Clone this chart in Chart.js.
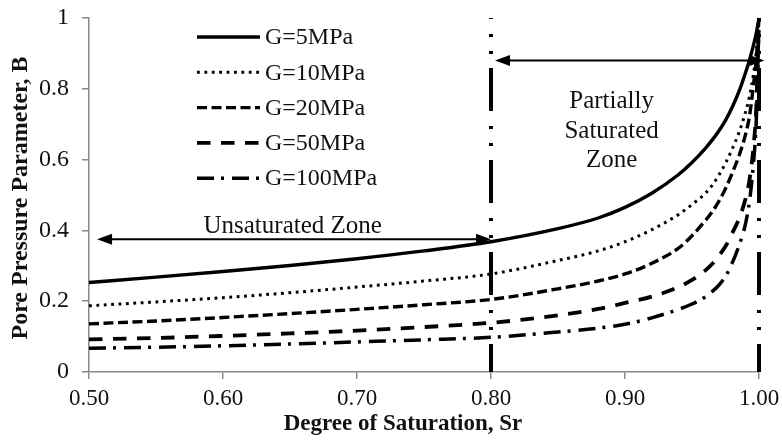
<!DOCTYPE html>
<html>
<head>
<meta charset="utf-8">
<script src="https://cdn.jsdelivr.net/npm/chart.js@4/dist/chart.umd.min.js"></script>
<style>
html,body{margin:0;padding:0;background:#fff;}
#wrap{width:782px;height:440px;position:relative;}
</style>
</head>
<body>
<div id="wrap"><canvas id="c" width="782" height="440"></canvas></div>
<script>
// ---- data ----
const satRatio = [0.50,0.55,0.60,0.65,0.70,0.75,0.80,0.85,0.88,0.90,0.92,0.94,0.95,0.96,0.965,0.97,0.975,0.98,0.985,0.99,0.993,0.996,0.998,1.00];
const bG5   = [0.253,0.268,0.284,0.301,0.320,0.342,0.368,0.405,0.435,0.465,0.505,0.558,0.592,0.632,0.655,0.681,0.711,0.748,0.792,0.846,0.883,0.925,0.958,1.0];
const bG10  = [0.187,0.198,0.210,0.224,0.240,0.257,0.277,0.315,0.342,0.368,0.402,0.445,0.473,0.505,0.527,0.556,0.590,0.630,0.676,0.735,0.780,0.845,0.905,1.0];
const bG20  = [0.136,0.144,0.154,0.165,0.177,0.190,0.205,0.235,0.257,0.277,0.307,0.350,0.385,0.428,0.452,0.482,0.518,0.562,0.610,0.672,0.725,0.815,0.885,1.0];
const bG50  = [0.092,0.096,0.102,0.109,0.117,0.127,0.139,0.160,0.178,0.195,0.213,0.240,0.260,0.287,0.305,0.328,0.355,0.392,0.432,0.490,0.545,0.640,0.750,1.0];
const bG100 = [0.067,0.070,0.074,0.079,0.085,0.091,0.098,0.113,0.124,0.135,0.153,0.177,0.192,0.212,0.227,0.245,0.270,0.308,0.356,0.420,0.485,0.595,0.715,1.0];
const seriesLabels = ['G=5MPa','G=10MPa','G=20MPa','G=50MPa','G=100MPa'];
const xTickValues = [0.50,0.60,0.70,0.80,0.90,1.00];
const yTickValues = [0,0.2,0.4,0.6,0.8,1];
const zoneBounds = [0.80, 1.00];
const zoneArrows = [
  {from:0.506, to:0.800, at:0.375},
  {from:0.803, to:1.004, at:0.880}
];
const zoneLabels = [
  {lines:['Unsaturated Zone'], x:0.652, y:0.412},
  {lines:['Partially','Saturated','Zone'], x:0.890, y:0.763}
];
const xTitle = 'Degree of Saturation, Sr';
const yTitle = 'Pore Pressure Parameter, B';

// ---- styles ----
const SERIF = '"Liberation Serif", "Times New Roman", serif';
const styles = [
  {w:3.4, dash:[]},
  {w:3.0, dash:[2.8,4.6]},
  {w:3.4, dash:[10,4.5]},
  {w:3.8, dash:[13.5,10.5]},
  {w:3.5, dash:[17,7,3,8]}
];
const allB = [bG5,bG10,bG20,bG50,bG100];

const datasets = allB.map((arr,i)=>({
  label: seriesLabels[i],
  data: satRatio.map((s,k)=>({x:s,y:arr[k]})),
  borderColor:'#000',
  borderWidth: styles[i].w,
  borderDash: styles[i].dash,
  borderCapStyle:'butt',
  pointRadius:0,
  fill:false,
  cubicInterpolationMode:'monotone',
  clip: 6
}));

function arrowHead(ctx, x, y, dir){
  const L = 15, H = 5.5;
  ctx.beginPath();
  ctx.moveTo(x, y);
  ctx.lineTo(x - dir*L, y - H);
  ctx.lineTo(x - dir*L, y + H);
  ctx.closePath();
  ctx.fill();
}

const annot = {
  id:'annot',
  afterDatasetsDraw(chart){
    const ctx = chart.ctx, xs = chart.scales.x, ys = chart.scales.y;
    ctx.save();
    // vertical zone boundaries
    ctx.strokeStyle = '#000';
    ctx.lineWidth = 4;
    ctx.setLineDash([43,15,3,14,3,14]);
    ctx.lineDashOffset = 42;
    zoneBounds.forEach(b=>{
      const px = xs.getPixelForValue(b);
      ctx.beginPath();
      ctx.moveTo(px, ys.getPixelForValue(1));
      ctx.lineTo(px, ys.getPixelForValue(0));
      ctx.stroke();
    });
    ctx.setLineDash([]);
    // arrows
    ctx.lineWidth = 2;
    ctx.fillStyle = '#000';
    zoneArrows.forEach(a=>{
      const x1 = xs.getPixelForValue(a.from), x2 = xs.getPixelForValue(a.to), y = ys.getPixelForValue(a.at);
      ctx.beginPath();
      ctx.moveTo(x1+8, y); ctx.lineTo(x2-8, y); ctx.stroke();
      arrowHead(ctx, x1, y, -1);
      arrowHead(ctx, x2, y, 1);
    });
    // zone labels
    ctx.font = '25px ' + SERIF;
    ctx.fillStyle = '#111';
    ctx.textAlign = 'center';
    ctx.textBaseline = 'middle';
    zoneLabels.forEach(z=>{
      const cx = xs.getPixelForValue(z.x), cy = ys.getPixelForValue(z.y);
      z.lines.forEach((t,i)=>ctx.fillText(t, cx, cy + i*29.5));
    });
    // legend
    const lx0 = 197, lx1 = 260, ly0 = 37, lstep = 35.3;
    ctx.font = '24px ' + SERIF;
    ctx.textAlign = 'left';
    chart.data.datasets.forEach((ds,i)=>{
      const y = ly0 + i*lstep;
      ctx.strokeStyle = '#000';
      ctx.lineWidth = ds.borderWidth;
      ctx.setLineDash(ds.borderDash);
      ctx.lineDashOffset = 0;
      ctx.beginPath(); ctx.moveTo(lx0, y); ctx.lineTo(lx1, y); ctx.stroke();
      ctx.setLineDash([]);
      ctx.fillText(ds.label, 265, y + 1);
    });
    // axis titles
    ctx.font = 'bold 23px ' + SERIF;
    ctx.textAlign = 'center';
    ctx.fillText(xTitle, 403, 424);
    ctx.save();
    ctx.translate(21, (ys.top+ys.bottom)/2 + 3);
    ctx.rotate(-Math.PI/2);
    ctx.font = 'bold 24px ' + SERIF;
    ctx.fillText(yTitle, 0, 0);
    ctx.restore();
    ctx.restore();
  }
};

new Chart(document.getElementById('c'), {
  type:'line',
  data:{datasets},
  options:{
    responsive:false,
    animation:false,
    events:[],
    layout:{padding:{left:0,right:23,top:18,bottom:0}},
    plugins:{legend:{display:false},tooltip:{enabled:false}},
    scales:{
      x:{
        type:'linear', min:0.5, max:1.0,
        afterBuildTicks(s){ s.ticks = xTickValues.map(v=>({value:v})); },
        afterFit(s){ s.height = 68; s.paddingLeft = 0; s.paddingRight = 0; },
        ticks:{callback:v=>Number(v).toFixed(2), font:{family:SERIF,size:23}, color:'#111', padding:6, maxRotation:0},
        grid:{drawOnChartArea:false, drawTicks:true, tickLength:7, color:'#8a8a8a', lineWidth:1.5},
        border:{color:'#8a8a8a', width:1.5}
      },
      y:{
        type:'linear', min:0, max:1,
        afterBuildTicks(s){ s.ticks = yTickValues.map(v=>({value:v})); },
        afterFit(s){ s.width = 89; s.paddingTop = 0; s.paddingBottom = 0; },
        ticks:{callback:v=>String(Number(v.toFixed(1))), font:{family:SERIF,size:24}, color:'#111', padding:13},
        grid:{drawOnChartArea:false, drawTicks:true, tickLength:7, color:'#8a8a8a', lineWidth:1.5},
        border:{color:'#8a8a8a', width:1.5}
      }
    }
  },
  plugins:[annot]
});
</script>
</body>
</html>
